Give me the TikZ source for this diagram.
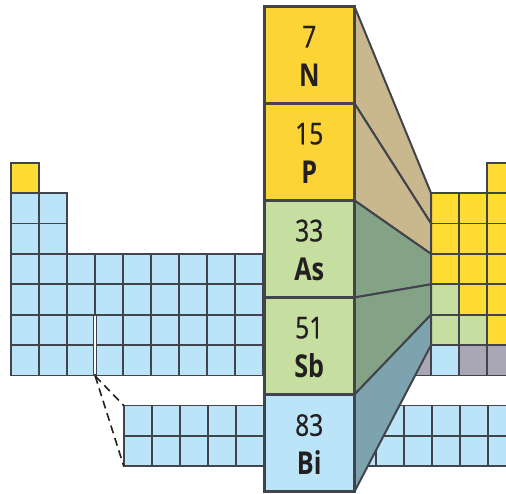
\documentclass[tikz,border=0pt]{standalone}
\usepackage{fontspec}
\setmainfont{Open Sans}[FakeStretch=0.8]
\newfontfamily\numfont{Open Sans}[FakeStretch=0.82, FakeBold=0.7]
\definecolor{edge}{HTML}{41444B}
\definecolor{ylwbig}{HTML}{FCD435}
\definecolor{ylw}{HTML}{FFDC33}
\definecolor{grn}{HTML}{C6DE9F}
\definecolor{blu}{HTML}{BCE4F8}
\definecolor{gry}{HTML}{A9A7B6}
\definecolor{tanfan}{HTML}{C9B78E}
\definecolor{grnfan}{HTML}{83A286}
\definecolor{blufan}{HTML}{7CA3AE}
\definecolor{ink}{HTML}{231F20}
\tikzset{
  cell/.style={draw=edge, line width=1.8pt},
  fan/.style={draw=edge, line width=2pt, line join=round},
  bigcell/.style={rectangle, draw=edge, line width=3pt, minimum width=90.5pt,
    minimum height=97pt, inner sep=0pt, outer sep=0pt},
  numtxt/.style={anchor=base, text=ink, inner sep=0pt,
    font=\numfont\fontsize{30}{30}\selectfont},
  symtxt/.style={anchor=base, text=ink, inner sep=0pt,
    font=\fontsize{31.5}{31.5}\selectfont\bfseries},
  guide/.style={ink, line width=1.6pt, dash pattern=on 8pt off 5pt},
}
% one table cell: column k, row j, fill colour
\newcommand\ptcell[3]{\filldraw[cell, fill=#3] ({11+28*#1},{162.7+30.4*#2}) rectangle ++(28,30.4);}
\newcommand\lowcell[3]{\filldraw[cell, fill=#3] ({11.8+28*#1},{405.5+30.4*#2}) rectangle ++(28,30.4);}
\begin{document}
\begin{tikzpicture}[x=1pt,y=-1pt]
\useasboundingbox (0,0) rectangle (506,493);
\clip (0,0) rectangle (506,493);

% left part of the main table
\ptcell{0}{0}{ylw}
\foreach \j in {1,2} \foreach \k in {0,1} {\ptcell{\k}{\j}{blu}}
\foreach \j in {3,...,6} \foreach \k in {0,...,8} {\ptcell{\k}{\j}{blu}}
% split between the s block and the rest in the last two periods
\draw[edge, line width=4.4pt] (95.2,314.7) -- (95.2,375.5);
\draw[white, line width=1.8pt] (95.2,316) -- (95.2,374.2);

% right part of the main table
\ptcell{14}{6}{gry}
\foreach \j in {1,2,3} {\ptcell{15}{\j}{ylw}}
\foreach \j in {4,5} {\ptcell{15}{\j}{grn}}
\ptcell{15}{6}{blu}
\foreach \j in {1,...,4} {\ptcell{16}{\j}{ylw}}
\ptcell{16}{5}{grn}
\ptcell{16}{6}{gry}
\foreach \j in {0,...,5} {\ptcell{17}{\j}{ylw}}
\ptcell{17}{6}{gry}

% detached f block rows
\foreach \j in {0,1} \foreach \k in {4,...,18} {\lowcell{\k}{\j}{blu}}

% dashed guides to the f block
\coordinate (gap) at (95.2,376);
\coordinate (ftop) at (123.8,405.5);
\coordinate (fbot) at (123.8,466.3);
\draw[guide] (gap) -- (ftop);
\draw[guide] (gap) -- (fbot);

% enlarged group 15 column
\node[bigcell, fill=ylwbig] (N)  at (309.25,55)  {};
\node[bigcell, fill=ylwbig] (P)  at (309.25,152) {};
\node[bigcell, fill=grn]    (As) at (309.25,249) {};
\node[bigcell, fill=grn]    (Sb) at (309.25,346) {};
\node[bigcell, fill=blu]    (Bi) at (309.25,443) {};

% period rows where the column sits in the table
\coordinate (r2) at (431,193.1);
\coordinate (r3) at (431,223.5);
\coordinate (r4) at (431,253.9);
\coordinate (r5) at (431,284.3);
\coordinate (r6) at (431,314.7);
\coordinate (r7) at (431,345.1);

\filldraw[fan, fill=tanfan] (N.north east) -- (r2) -- (r3) -- (N.south east) -- cycle;
\filldraw[fan, fill=tanfan] (P.north east) -- (r3) -- (r4) -- (P.south east) -- cycle;
\filldraw[fan, fill=grnfan] (As.north east) -- (r4) -- (r5) -- (As.south east) -- cycle;
\filldraw[fan, fill=grnfan] (Sb.north east) -- (r5) -- (r6) -- (Sb.south east) -- cycle;
\filldraw[fan, fill=blufan] (Bi.north east) -- (r6) -- (r7) -- (Bi.south east) -- cycle;

% redraw the column borders above the fans
\foreach \e in {N,P,As,Sb,Bi} {\draw[edge, line width=3pt] (\e.north west) rectangle (\e.south east);}

% element labels
\node[numtxt] (N-z)  at (309.25,47.3)  {7};
\node[symtxt] (N-s)  at (309.25,86)    {N};
\node[numtxt] (P-z)  at (309.25,144.3) {15};
\node[symtxt] (P-s)  at (309.25,183)   {P};
\node[numtxt] (As-z) at (309.25,241.3) {33};
\node[symtxt] (As-s) at (309.25,280)   {As};
\node[numtxt] (Sb-z) at (309.25,338.3) {51};
\node[symtxt] (Sb-s) at (309.25,377)   {Sb};
\node[numtxt] (Bi-z) at (309.25,435.8) {83};
\node[symtxt] (Bi-s) at (309.25,474)   {Bi};
\end{tikzpicture}
\end{document}
